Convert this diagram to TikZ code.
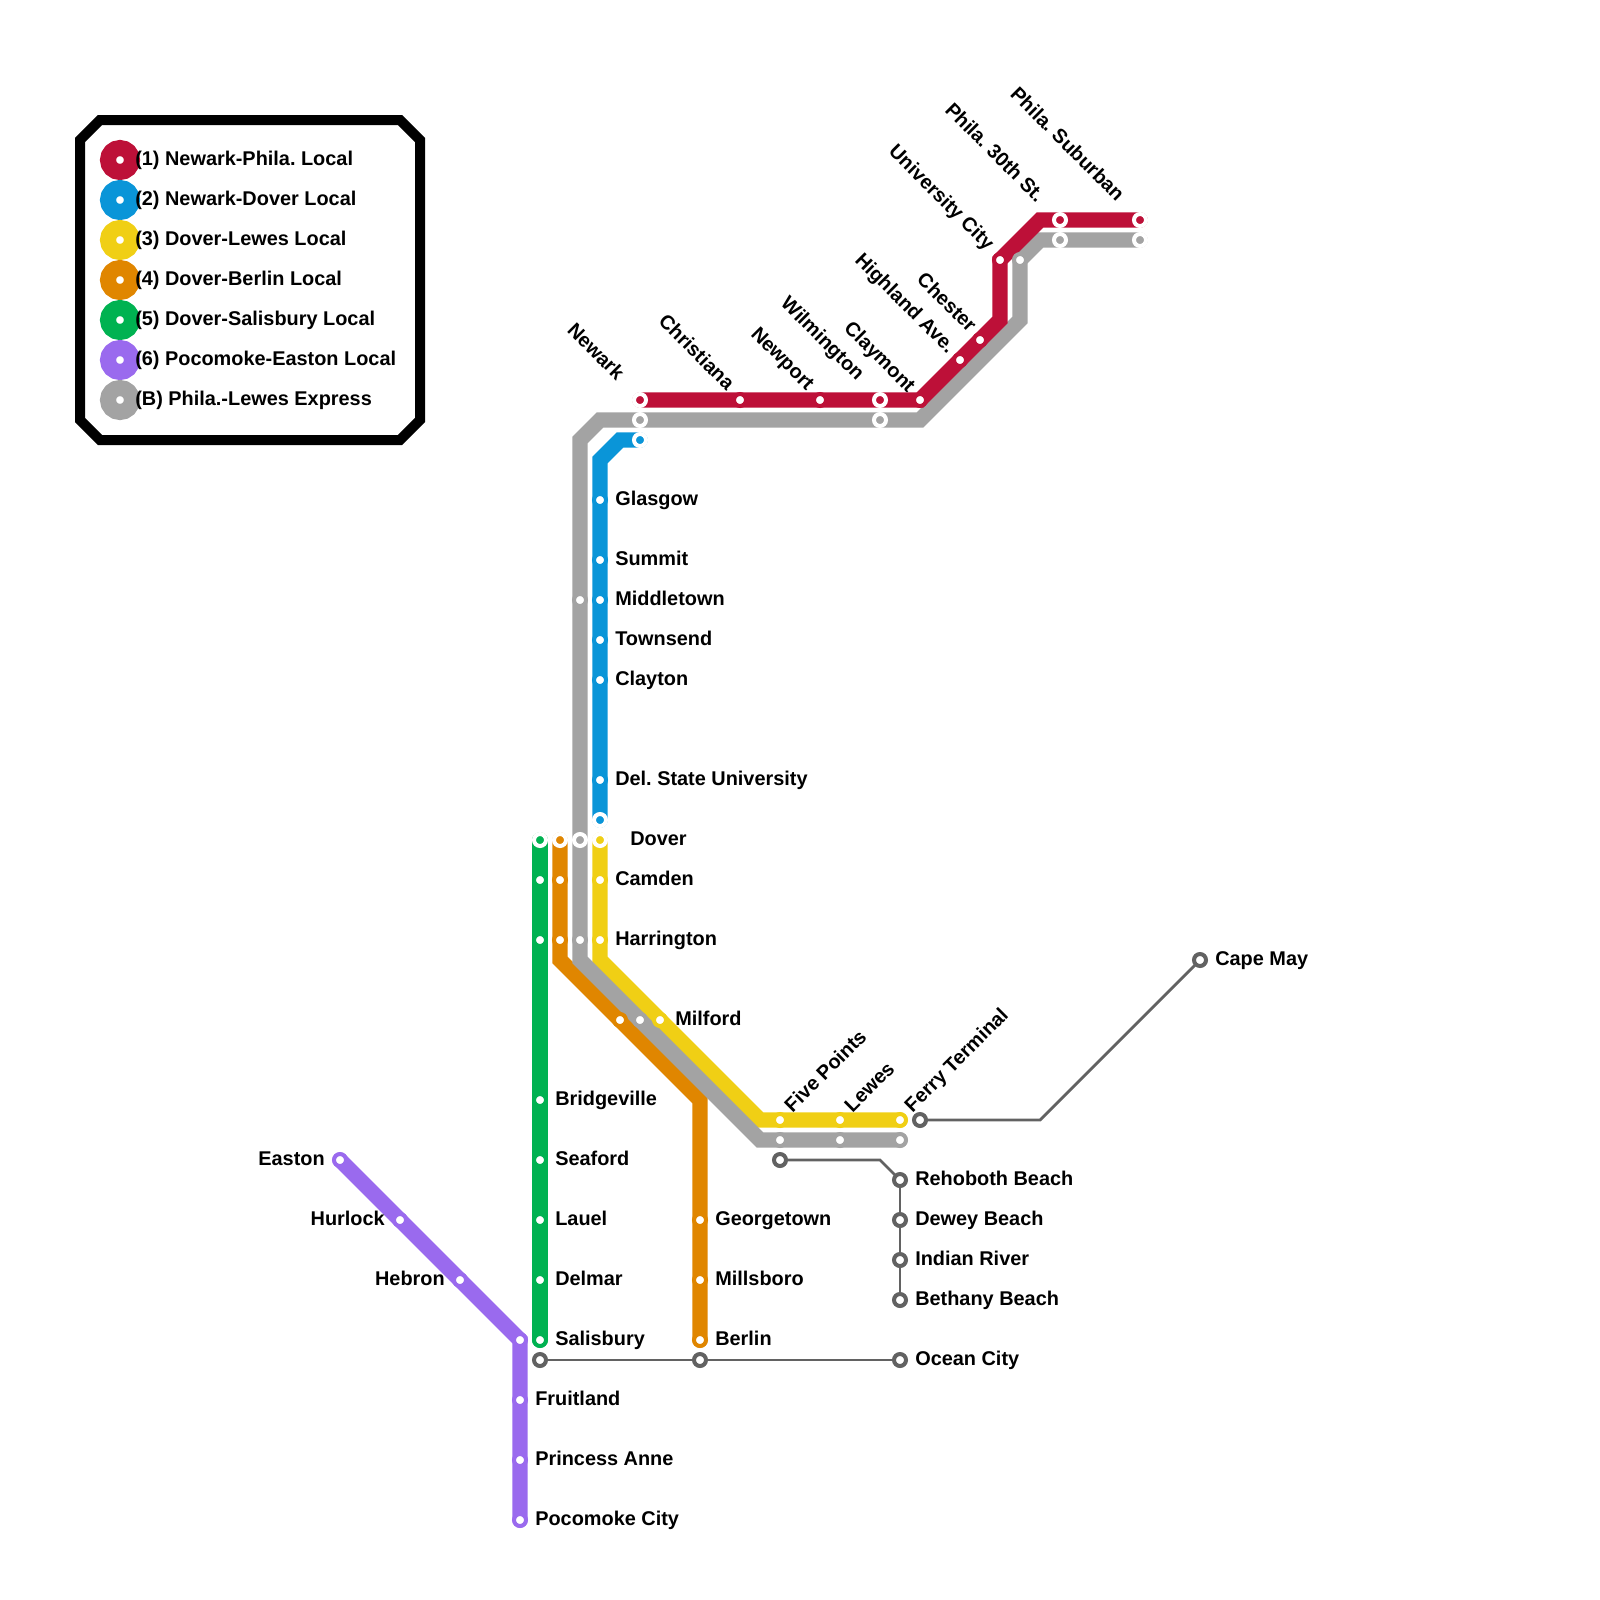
\documentclass[tikz,border=0pt]{standalone}
\usepackage{fontspec}
\setmainfont{Liberation Sans}
\frenchspacing
\definecolor{lineRed}{HTML}{BD1038}
\definecolor{lineBlue}{HTML}{0A95D8}
\definecolor{lineYellow}{HTML}{F0CF15}
\definecolor{lineOrange}{HTML}{E08600}
\definecolor{lineGreen}{HTML}{00B251}
\definecolor{linePurple}{HTML}{9A6AEE}
\definecolor{lineGray}{HTML}{A3A3A3}
\definecolor{linkGray}{HTML}{626262}
\tikzset{
  metro/.style={line width=0.385cm, line cap=round},
  link/.style={line width=0.07cm, draw=linkGray},
  stbase/.style={circle, inner sep=0pt, outer sep=0pt, minimum size=0.3cm, line width=0.1cm},
  dotst/.style={stbase, fill=white, draw=#1},
  ringst/.style={stbase, fill=#1, draw=white},
  openst/.style={stbase, fill=white, draw=linkGray},
  legdot/.style={circle, inner sep=0pt, outer sep=0pt, minimum size=0.6cm, line width=0.4cm, fill=white, draw=#1},
  stname/.style={font=\fontsize{14.15}{16}\selectfont\bfseries, inner sep=0pt, text height=10pt, text depth=3pt},
  rname/.style={stname, anchor=west, yshift=-0.065cm},
  lname/.style={stname, anchor=east, yshift=-0.065cm},
  upname/.style={stname, anchor=west, rotate=45},
  downname/.style={stname, anchor=east, rotate=-45}
}
\begin{document}
\begin{tikzpicture}[x=0.5cm, y=-0.5cm]
    \useasboundingbox (0,0) rectangle (80,80);
    % legend frame
    \draw[line width=0.25cm] (5,6) -- (20,6) -- (21,7) -- (21,21) -- (20,22) -- (5,22) -- (4,21) -- (4,7) -- cycle;
    % legend
    \node[legdot=lineRed] (legRed) at (6,8) {};
    \node[legdot=lineBlue] (legBlue) at (6,10) {};
    \node[legdot=lineYellow] (legYellow) at (6,12) {};
    \node[legdot=lineOrange] (legOrange) at (6,14) {};
    \node[legdot=lineGreen] (legGreen) at (6,16) {};
    \node[legdot=linePurple] (legPurple) at (6,18) {};
    \node[legdot=lineGray] (legGray) at (6,20) {};
    \node[rname] (legRedText) at (6.75,7.9) {(1) Newark-Phila. Local};
    \node[rname] (legBlueText) at (6.75,9.9) {(2) Newark-Dover Local};
    \node[rname] (legYellowText) at (6.75,11.9) {(3) Dover-Lewes Local};
    \node[rname] (legOrangeText) at (6.75,13.9) {(4) Dover-Berlin Local};
    \node[rname] (legGreenText) at (6.75,15.9) {(5) Dover-Salisbury Local};
    \node[rname] (legPurpleText) at (6.75,17.9) {(6) Pocomoke-Easton Local};
    \node[rname] (legGrayText) at (6.75,19.9) {(B) Phila.-Lewes Express};
    % line ends and bends
    \coordinate (redA) at (32,20);
    \coordinate (redB) at (46,20);
    \coordinate (redC) at (50,16);
    \coordinate (redD) at (50,13);
    \coordinate (redE) at (52,11);
    \coordinate (redF) at (57,11);
    \coordinate (blueA) at (32,22);
    \coordinate (blueB) at (31,22);
    \coordinate (blueC) at (30,23);
    \coordinate (blueD) at (30,41);
    \coordinate (yellowA) at (30,42);
    \coordinate (yellowB) at (30,48);
    \coordinate (yellowC) at (38,56);
    \coordinate (yellowD) at (45,56);
    \coordinate (orangeA) at (28,42);
    \coordinate (orangeB) at (28,48);
    \coordinate (orangeC) at (35,55);
    \coordinate (orangeD) at (35,67);
    \coordinate (greenA) at (27,42);
    \coordinate (greenB) at (27,67);
    \coordinate (purpleA) at (17,58);
    \coordinate (purpleB) at (26,67);
    \coordinate (purpleC) at (26,76);
    \coordinate (grayA) at (29,42);
    \coordinate (grayB) at (29,22);
    \coordinate (grayC) at (30,21);
    \coordinate (grayD) at (46,21);
    \coordinate (grayE) at (51,16);
    \coordinate (grayF) at (51,13);
    \coordinate (grayG) at (52,12);
    \coordinate (grayH) at (57,12);
    \coordinate (grayI) at (29,48);
    \coordinate (grayJ) at (38,57);
    \coordinate (grayK) at (45,57);
    \coordinate (linkA) at (52,56);
    \coordinate (linkB) at (44,58);
    % lines
    \draw[metro, draw=lineOrange] (orangeA) -- (orangeB) -- (orangeC) -- (orangeD);
    \draw[metro, draw=lineYellow] (yellowA) -- (yellowB) -- (yellowC) -- (yellowD);
    \draw[metro, draw=lineGray] (grayA) -- (grayB) -- (grayC) -- (grayD) -- (grayE) -- (grayF) -- (grayG) -- (grayH);
    \draw[metro, draw=lineGray] (grayA) -- (grayI) -- (grayJ) -- (grayK);
    \draw[metro, draw=lineRed] (redA) -- (redB) -- (redC) -- (redD) -- (redE) -- (redF);
    \draw[metro, draw=lineBlue] (blueA) -- (blueB) -- (blueC) -- (blueD);
    \draw[metro, draw=lineGreen] (greenA) -- (greenB);
    \draw[metro, draw=linePurple] (purpleA) -- (purpleB) -- (purpleC);
    % thin links
    \node[openst] (capeMay) at (60,48) {};
    \node[openst] (ferry) at (46,56) {};
    \node[openst] (fivePtsLink) at (39,58) {};
    \node[openst] (rehoboth) at (45,59) {};
    \node[openst] (dewey) at (45,61) {};
    \node[openst] (indian) at (45,63) {};
    \node[openst] (bethany) at (45,65) {};
    \node[openst] (salisLink) at (27,68) {};
    \node[openst] (berlinLink) at (35,68) {};
    \node[openst] (ocean) at (45,68) {};
    \draw[link] (ferry) -- (linkA) -- (capeMay);
    \draw[link] (fivePtsLink) -- (linkB) -- (rehoboth);
    \draw[link] (rehoboth) -- (dewey);
    \draw[link] (dewey) -- (indian);
    \draw[link] (indian) -- (bethany);
    \draw[link] (salisLink) -- (berlinLink);
    \draw[link] (berlinLink) -- (ocean);
    % yellow stations
    \node[ringst=lineYellow] (doverY) at (yellowA) {};
    \node[dotst=lineYellow] (camdenY) at (30,44) {};
    \node[dotst=lineYellow] (harringtonY) at (30,47) {};
    \node[dotst=lineYellow] (milfordY) at (33,51) {};
    \node[dotst=lineYellow] (fivePtsY) at (39,56) {};
    \node[dotst=lineYellow] (lewesY) at (42,56) {};
    \node[dotst=lineYellow] (ferryY) at (yellowD) {};
    % orange stations
    \node[ringst=lineOrange] (doverO) at (orangeA) {};
    \node[dotst=lineOrange] (camdenO) at (28,44) {};
    \node[dotst=lineOrange] (harringtonO) at (28,47) {};
    \node[dotst=lineOrange] (milfordO) at (31,51) {};
    \node[dotst=lineOrange] (georgetown) at (35,61) {};
    \node[dotst=lineOrange] (millsboro) at (35,64) {};
    \node[dotst=lineOrange] (berlin) at (orangeD) {};
    % gray stations
    \node[ringst=lineGray] (newarkB) at (32,21) {};
    \node[ringst=lineGray] (wilmingtonB) at (44,21) {};
    \node[dotst=lineGray] (universityB) at (grayF) {};
    \node[ringst=lineGray] (thirtiethB) at (53,12) {};
    \node[ringst=lineGray] (suburbanB) at (grayH) {};
    \node[dotst=lineGray] (middletownB) at (29,30) {};
    \node[ringst=lineGray] (doverB) at (grayA) {};
    \node[dotst=lineGray] (harringtonB) at (29,47) {};
    \node[dotst=lineGray] (milfordB) at (32,51) {};
    \node[dotst=lineGray] (fivePtsB) at (39,57) {};
    \node[dotst=lineGray] (lewesB) at (42,57) {};
    \node[dotst=lineGray] (ferryB) at (grayK) {};
    % red stations
    \node[ringst=lineRed] (newarkR) at (redA) {};
    \node[dotst=lineRed] (christiana) at (37,20) {};
    \node[dotst=lineRed] (newport) at (41,20) {};
    \node[ringst=lineRed] (wilmingtonR) at (44,20) {};
    \node[dotst=lineRed] (claymont) at (redB) {};
    \node[dotst=lineRed] (highland) at (48,18) {};
    \node[dotst=lineRed] (chester) at (49,17) {};
    \node[dotst=lineRed] (university) at (redD) {};
    \node[ringst=lineRed] (thirtiethR) at (53,11) {};
    \node[ringst=lineRed] (suburbanR) at (redF) {};
    % blue stations
    \node[ringst=lineBlue] (newarkL) at (blueA) {};
    \node[dotst=lineBlue] (glasgow) at (30,25) {};
    \node[dotst=lineBlue] (summit) at (30,28) {};
    \node[dotst=lineBlue] (middletown) at (30,30) {};
    \node[dotst=lineBlue] (townsend) at (30,32) {};
    \node[dotst=lineBlue] (clayton) at (30,34) {};
    \node[dotst=lineBlue] (delState) at (30,39) {};
    \node[ringst=lineBlue] (doverL) at (blueD) {};
    % green stations
    \node[ringst=lineGreen] (doverG) at (greenA) {};
    \node[dotst=lineGreen] (camdenG) at (27,44) {};
    \node[dotst=lineGreen] (harringtonG) at (27,47) {};
    \node[dotst=lineGreen] (bridgeville) at (27,55) {};
    \node[dotst=lineGreen] (seaford) at (27,58) {};
    \node[dotst=lineGreen] (lauel) at (27,61) {};
    \node[dotst=lineGreen] (delmar) at (27,64) {};
    \node[dotst=lineGreen] (salisbury) at (greenB) {};
    % purple stations
    \node[dotst=linePurple] (easton) at (purpleA) {};
    \node[dotst=linePurple] (hurlock) at (20,61) {};
    \node[dotst=linePurple] (hebron) at (23,64) {};
    \node[dotst=linePurple] (salisburyP) at (purpleB) {};
    \node[dotst=linePurple] (fruitland) at (26,70) {};
    \node[dotst=linePurple] (princess) at (26,73) {};
    \node[dotst=linePurple] (pocomoke) at (purpleC) {};
    % names to the right
    \node[rname] (glasgowText) at (30.75,24.9) {Glasgow};
    \node[rname] (summitText) at (30.75,27.9) {Summit};
    \node[rname] (middletownText) at (30.75,29.9) {Middletown};
    \node[rname] (townsendText) at (30.75,31.9) {Townsend};
    \node[rname] (claytonText) at (30.75,33.9) {Clayton};
    \node[rname] (delStateText) at (30.75,38.9) {Del. State University};
    \node[rname] (doverText) at (31.5,41.9) {Dover};
    \node[rname] (camdenText) at (30.75,43.9) {Camden};
    \node[rname] (harringtonText) at (30.75,46.9) {Harrington};
    \node[rname] (milfordText) at (33.75,50.9) {Milford};
    \node[rname] (bridgevilleText) at (27.75,54.9) {Bridgeville};
    \node[rname] (seafordText) at (27.75,57.9) {Seaford};
    \node[rname] (lauelText) at (27.75,60.9) {Lauel};
    \node[rname] (delmarText) at (27.75,63.9) {Delmar};
    \node[rname] (salisburyText) at (27.75,66.9) {Salisbury};
    \node[rname] (georgetownText) at (35.75,60.9) {Georgetown};
    \node[rname] (millsboroText) at (35.75,63.9) {Millsboro};
    \node[rname] (berlinText) at (35.75,66.9) {Berlin};
    \node[rname] (fruitlandText) at (26.75,69.9) {Fruitland};
    \node[rname] (princessText) at (26.75,72.9) {Princess Anne};
    \node[rname] (pocomokeText) at (26.75,75.9) {Pocomoke City};
    \node[rname] (rehobothText) at (45.75,58.9) {Rehoboth Beach};
    \node[rname] (deweyText) at (45.75,60.9) {Dewey Beach};
    \node[rname] (indianText) at (45.75,62.9) {Indian River};
    \node[rname] (bethanyText) at (45.75,64.9) {Bethany Beach};
    \node[rname] (oceanText) at (45.75,67.9) {Ocean City};
    \node[rname] (capeMayText) at (60.75,47.9) {Cape May};
    % names to the left
    \node[lname] (eastonText) at (16.25,57.9) {Easton};
    \node[lname] (hurlockText) at (19.25,60.9) {Hurlock};
    \node[lname] (hebronText) at (22.25,63.9) {Hebron};
    % slanted names
    \node[upname] (fivePtsText) at (39.45,55.5) {Five Points};
    \node[upname] (lewesText) at (42.45,55.5) {Lewes};
    \node[upname] (ferryText) at (45.45,55.5) {Ferry Terminal};
    \node[downname] (newarkText) at (31,18.9) {Newark};
    \node[downname] (christianaText) at (36.5,19.4) {Christiana};
    \node[downname] (newportText) at (40.5,19.4) {Newport};
    \node[downname] (wilmingtonText) at (43,18.9) {Wilmington};
    \node[downname] (claymontText) at (45.55,19.5) {Claymont};
    \node[downname] (highlandText) at (47.55,17.55) {Highland Ave.};
    \node[downname] (chesterText) at (48.6,16.5) {Chester};
    \node[downname] (universityText) at (49.5,12.4) {University City};
    \node[downname] (thirtiethText) at (52,10) {Phila. 30th St.};
    \node[downname] (suburbanText) at (56,9.95) {Phila. Suburban};
\end{tikzpicture}
\end{document}
